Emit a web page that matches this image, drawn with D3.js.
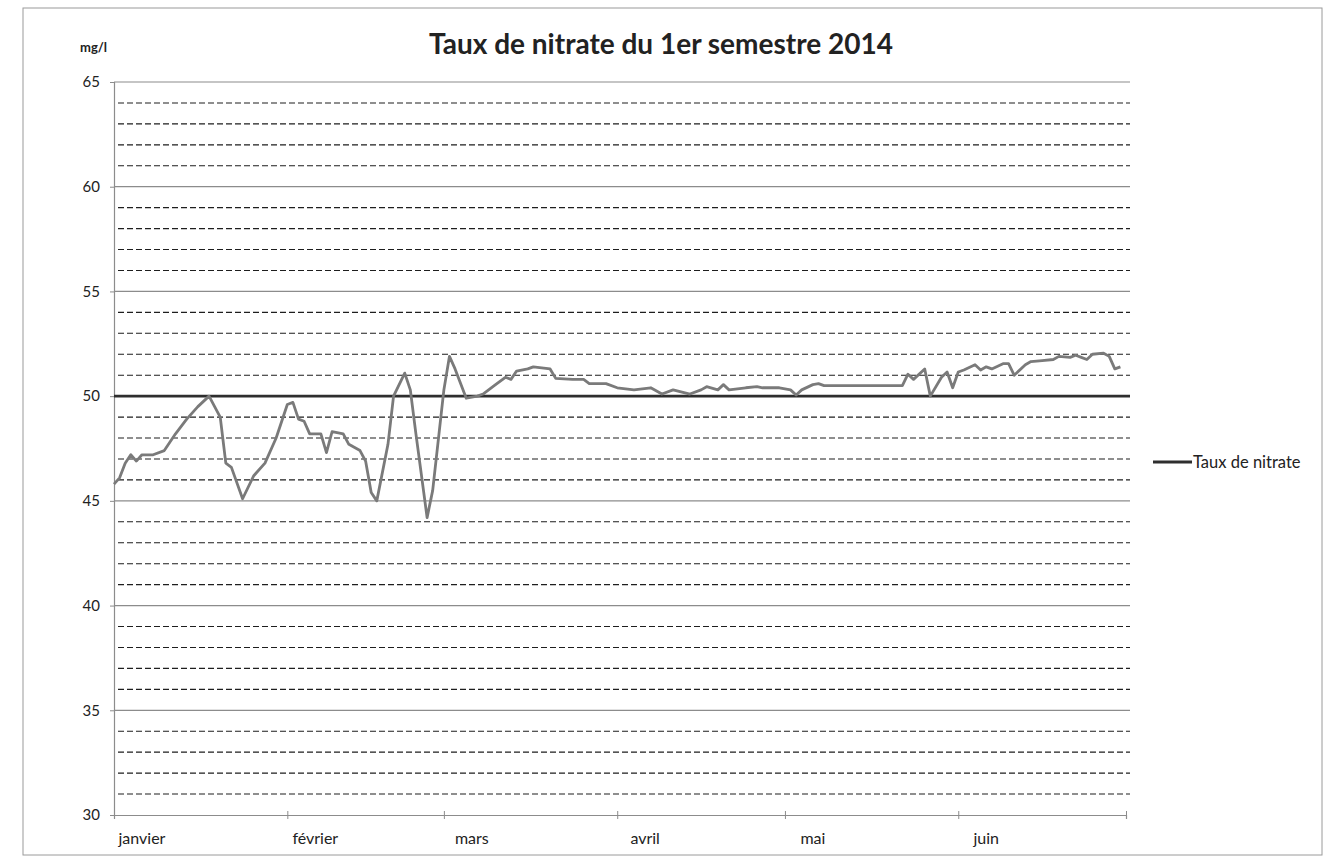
<!DOCTYPE html>
<html>
<head>
<meta charset="utf-8">
<script src="https://cdn.jsdelivr.net/npm/d3@7"></script>
<style>
  body { margin: 0; background: #fff; }
  text { font-family: Lato, "Open Sans", sans-serif; fill: #222; }
</style>
</head>
<body>
<div id="output"></div>
<script>
var titre = "Taux de nitrate du 1er semestre 2014";
var unite = "mg/l";
var serieNom = "Taux de nitrate";
var mois = ["janvier", "février", "mars", "avril", "mai", "juin"];
var yLabels = [30, 35, 40, 45, 50, 55, 60, 65];
var limite = 50;

var dates = ["01-01","01-02","01-03","01-04","01-05","01-06","01-08","01-10","01-12","01-14","01-16","01-18","01-20","01-21","01-22","01-24","01-26","01-28","01-30",
    "02-01","02-02","02-03","02-04","02-05","02-07","02-08","02-09","02-11","02-12","02-14","02-15","02-16","02-17","02-19","02-20","02-22","02-23","02-24","02-26","02-27",
    "03-01","03-02","03-03","03-05","03-07","03-08","03-10","03-12","03-13","03-14","03-16","03-17","03-20","03-21","03-24","03-26","03-27","03-30",
    "04-01","04-04","04-07","04-09","04-11","04-14","04-16","04-17","04-19","04-20","04-21","04-24","04-26","04-27","04-30",
    "05-02","05-03","05-04","05-06","05-07","05-08","05-22","05-23","05-24","05-26","05-27","05-29","05-30","05-31",
    "06-01","06-02","06-04","06-05","06-06","06-07","06-09","06-10","06-11","06-13","06-14","06-16","06-18","06-19","06-21","06-22","06-23","06-24","06-25","06-27","06-28","06-29","06-30"];

var nitrate = [45.8,46.1,46.8,47.2,46.9,47.2,47.2,47.4,48.2,48.9,49.5,50.0,49.0,46.8,46.6,45.1,46.2,46.8,48.0,
    49.6,49.7,48.9,48.8,48.2,48.2,47.3,48.3,48.2,47.7,47.4,46.9,45.4,45.0,47.7,50.0,51.1,50.3,48.2,44.2,45.5,
    50.3,51.9,51.3,49.9,50.0,50.1,50.5,50.9,50.8,51.2,51.3,51.4,51.3,50.85,50.8,50.8,50.6,50.6,
    50.4,50.3,50.4,50.1,50.3,50.1,50.3,50.45,50.3,50.55,50.3,50.4,50.45,50.4,50.4,
    50.3,50.05,50.3,50.55,50.6,50.5,50.5,51.05,50.8,51.3,50.0,50.9,51.15,50.4,
    51.15,51.25,51.5,51.25,51.4,51.3,51.55,51.55,51.0,51.5,51.65,51.7,51.75,51.9,51.85,51.95,51.85,51.75,52.0,52.05,51.9,51.3,51.4];

var parse = d3.timeParse("%Y-%m-%d");
var data = dates.map(function (d, i) {
    return {date: parse("2014-" + d), value: nitrate[i]};
});

var w = 1330, h = 861;
var pLeft = 114, pRight = 1126, pTop = 82, pBottom = 815;

var x = d3.scaleTime()
    .domain([parse("2014-01-01"), parse("2014-07-01")])
    .range([pLeft, pRight]);

var y = d3.scaleLinear()
    .domain([30, 65])
    .range([pBottom, pTop]);

var svg = d3.select("#output").append("svg")
    .attr("width", w)
    .attr("height", h);

svg.append("rect")
    .attr("x", 23).attr("y", 8)
    .attr("width", 1299).attr("height", 847)
    .attr("fill", "none")
    .attr("stroke", "#9a9a9a");

// lignes de grille secondaires (pointillés) puis principales
var minor = y.ticks(35).filter(function (v) { return v % 5 != 0; });

svg.append("g").selectAll("line")
    .data(minor)
    .enter()
    .append("line")
    .attr("x1", pLeft + 4)
    .attr("x2", pRight + 4)
    .attr("y1", function (d) { return y(d); })
    .attr("y2", function (d) { return y(d); })
    .attr("stroke", "#1e1e1e")
    .attr("stroke-width", 1.1)
    .attr("stroke-dasharray", "6,3");

svg.append("g").selectAll("line")
    .data(yLabels.filter(function (v) { return v != 30; }))
    .enter()
    .append("line")
    .attr("x1", pLeft)
    .attr("x2", pRight + 4)
    .attr("y1", function (d) { return y(d); })
    .attr("y2", function (d) { return y(d); })
    .attr("stroke", "#8c8c8c")
    .attr("stroke-width", 1.2);

var yAxis = d3.axisLeft(y)
    .tickValues(yLabels)
    .tickSize(4)
    .tickPadding(10)
    .tickFormat(d3.format("d"));

var gy = svg.append("g")
    .attr("transform", "translate(" + pLeft + ",0)")
    .call(yAxis);
gy.select(".domain").attr("stroke", "#8c8c8c").attr("stroke-width", 1.2);
gy.selectAll(".tick line").attr("stroke", "#8c8c8c");
gy.selectAll("text").attr("font-size", 15).attr("font-family", "Lato").attr("fill", "#222");

var monthStarts = d3.timeMonth.range(parse("2014-01-01"), parse("2014-07-02"));

var xAxis = d3.axisBottom(x)
    .tickValues(monthStarts)
    .tickSize(4)
    .tickFormat("");

var gx = svg.append("g")
    .attr("transform", "translate(0," + pBottom + ")")
    .call(xAxis);
gx.select(".domain").attr("stroke", "#8c8c8c").attr("stroke-width", 1.2);
gx.selectAll(".tick line").attr("stroke", "#8c8c8c").attr("y1", -4);

svg.append("g").selectAll("text")
    .data(mois)
    .enter()
    .append("text")
    .attr("x", function (d, i) { return x(d3.timeDay.offset(monthStarts[i], 5.5)); })
    .attr("y", pBottom + 29)
    .attr("text-anchor", "middle")
    .attr("font-size", 16)
    .text(function (d) { return d; });

// seuil 50 mg/l
svg.append("line")
    .attr("x1", pLeft)
    .attr("x2", pRight + 4)
    .attr("y1", y(limite))
    .attr("y2", y(limite))
    .attr("stroke", "#2e2e2e")
    .attr("stroke-width", 2.6);

var line = d3.line()
    .x(function (d) { return x(d.date); })
    .y(function (d) { return y(d.value); });

svg.append("path")
    .datum(data)
    .attr("d", line)
    .attr("fill", "none")
    .attr("stroke", "#7a7a7a")
    .attr("stroke-width", 2.8)
    .attr("stroke-linejoin", "round");

svg.append("text")
    .attr("x", 661)
    .attr("y", 54)
    .attr("text-anchor", "middle")
    .attr("font-size", 28)
    .attr("font-weight", "bold")
    .text(titre);

svg.append("text")
    .attr("x", 80)
    .attr("y", 52)
    .attr("font-size", 13)
    .attr("font-weight", "bold")
    .text(unite);

svg.append("line")
    .attr("x1", 1153).attr("x2", 1192)
    .attr("y1", 462).attr("y2", 462)
    .attr("stroke", "#2e2e2e")
    .attr("stroke-width", 3);

svg.append("text")
    .attr("x", 1193)
    .attr("y", 468)
    .attr("font-size", 16.5)
    .text(serieNom);
</script>
</body>
</html>
